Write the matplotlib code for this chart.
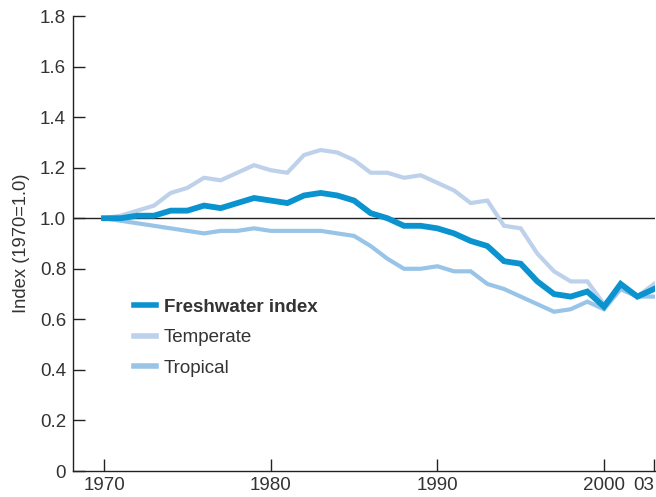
import matplotlib.pyplot as plt

plt.rcParams['font.family'] = ['Liberation Sans', 'DejaVu Sans']

years = list(range(1970, 2004))

freshwater = [1.00, 1.00, 1.01, 1.01, 1.03, 1.03, 1.05, 1.04, 1.06, 1.08,
              1.07, 1.06, 1.09, 1.10, 1.09, 1.07, 1.02, 1.00, 0.97, 0.97,
              0.96, 0.94, 0.91, 0.89, 0.83, 0.82, 0.75, 0.70, 0.69, 0.71,
              0.65, 0.74, 0.69, 0.72]

temperate = [1.00, 1.01, 1.03, 1.05, 1.10, 1.12, 1.16, 1.15, 1.18, 1.21,
             1.19, 1.18, 1.25, 1.27, 1.26, 1.23, 1.18, 1.18, 1.16, 1.17,
             1.14, 1.11, 1.06, 1.07, 0.97, 0.96, 0.86, 0.79, 0.75, 0.75,
             0.66, 0.72, 0.69, 0.74]

tropical = [1.00, 0.99, 0.98, 0.97, 0.96, 0.95, 0.94, 0.95, 0.95, 0.96,
            0.95, 0.95, 0.95, 0.95, 0.94, 0.93, 0.89, 0.84, 0.80, 0.80,
            0.81, 0.79, 0.79, 0.74, 0.72, 0.69, 0.66, 0.63, 0.64, 0.67,
            0.64, 0.72, 0.69, 0.69]

x_ticks = [1970, 1980, 1990, 2000, 2003]
x_labels = ["1970", "1980", "1990", "2000", "03"]
y_ticks = [0, 0.2, 0.4, 0.6, 0.8, 1.0, 1.2, 1.4, 1.6, 1.8]
y_labels = ["0", "0.2", "0.4", "0.6", "0.8", "1.0", "1.2", "1.4", "1.6", "1.8"]

text_color = "#333333"

fig = plt.figure(figsize=(6.56, 4.97), dpi=100)
ax = fig.add_axes([0.1113, 0.0523, 0.8872, 0.9155])

# reference line at 1.0
ax.axhline(1.0, color="#222222", linewidth=1.0, zorder=1)

ax.plot(years, temperate, color="#bdd1ea", linewidth=3.0,
        solid_joinstyle="miter", label="Temperate", zorder=2)
ax.plot(years, tropical, color="#98c4e8", linewidth=3.0,
        solid_joinstyle="miter", label="Tropical", zorder=3)
ax.plot(years, freshwater, color="#0a93cf", linewidth=4.2,
        solid_joinstyle="miter", label="Freshwater index", zorder=4)

ax.set_xlim(1968.14, 2003.06)
ax.set_ylim(0, 1.8)

ax.set_xticks(x_ticks)
ax.set_xticklabels(x_labels)
ax.set_yticks(y_ticks)
ax.set_yticklabels(y_labels)

ax.tick_params(direction="in", length=8.5, width=1.0, color="#222222",
               labelsize=13.5, labelcolor=text_color, pad=5)
ax.tick_params(axis="x", pad=4)
# last label "03" sits left of its tick so it stays inside the figure
ax.get_xticklabels()[-1].set_horizontalalignment("right")

for side in ["top", "right"]:
    ax.spines[side].set_visible(False)
for side in ["left", "bottom"]:
    ax.spines[side].set_linewidth(1.0)
    ax.spines[side].set_color("#222222")

ax.set_ylabel("Index (1970=1.0)", fontsize=13.2, color=text_color)
ax.yaxis.set_label_coords(-0.074, 0.5)

handles, labels = ax.get_legend_handles_labels()
order = [2, 0, 1]
leg = ax.legend([handles[i] for i in order], [labels[i] for i in order],
                loc="upper left", bbox_to_anchor=(0.105, 0.379),
                frameon=False, fontsize=13.5, borderpad=0, borderaxespad=0,
                handlelength=1.15, handletextpad=0.43, labelspacing=0.71)
for line in leg.get_lines():
    line.set_linewidth(4.0)
for t in leg.get_texts():
    t.set_color(text_color)
leg.get_texts()[0].set_fontweight("bold")

fig.savefig("out.png", dpi=100)
